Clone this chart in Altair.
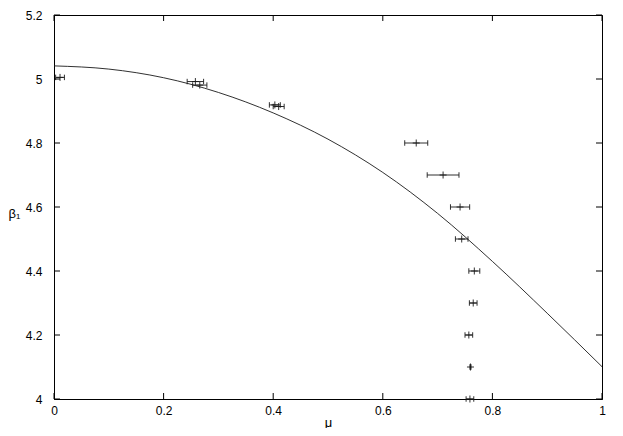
import altair as alt
import pandas as pd

# measured points with horizontal error bars
mu = [0.011, 0.258, 0.266, 0.403, 0.410, 0.661, 0.710, 0.741, 0.744, 0.767, 0.765, 0.757, 0.760, 0.759]
beta = [5.005, 4.992, 4.981, 4.919, 4.914, 4.8, 4.7, 4.6, 4.5, 4.4, 4.3, 4.2, 4.1, 4.0]
mu_err = [0.008, 0.015, 0.013, 0.010, 0.010, 0.021, 0.029, 0.0175, 0.0115, 0.010, 0.007, 0.007, 0.001, 0.007]

# fitted curve
curve_mu = [0.0, 0.1, 0.2, 0.3, 0.4, 0.5, 0.6, 0.7, 0.8, 0.9, 1.0]
curve_beta = [5.041, 5.031, 5.004, 4.958, 4.894, 4.812, 4.708, 4.580, 4.430, 4.268, 4.101]

x_ticks = [0, 0.2, 0.4, 0.6, 0.8, 1]
y_ticks = [4, 4.2, 4.4, 4.6, 4.8, 5, 5.2]

W, H = 548, 384
FONT = "Liberation Sans"
INK = "#1a1a1a"

pts = pd.DataFrame({
    "mu": mu,
    "beta": beta,
    "lo": [m - e for m, e in zip(mu, mu_err)],
    "hi": [m + e for m, e in zip(mu, mu_err)],
})
curve = pd.DataFrame({"mu": curve_mu, "beta": curve_beta})
xt = pd.DataFrame({"v": x_ticks})
yt = pd.DataFrame({"v": y_ticks})

xs = alt.Scale(domain=[0, 1], nice=False, zero=False)
ys = alt.Scale(domain=[4, 5.2], nice=False, zero=False)

xaxis = alt.Axis(values=x_ticks, ticks=False, labelPadding=6, labelFontSize=12,
                 labelFont=FONT, labelColor="black", title="μ", titleFont=FONT,
                 titleFontSize=13, titleFontWeight="normal", titleColor="black",
                 titleY=27, titleBaseline="alphabetic",
                 domainColor="black", grid=False, labelFlush=False,
                 labelExpr="format(datum.value, '~g')")
yaxis = alt.Axis(values=y_ticks, ticks=False, labelPadding=12, labelFontSize=12,
                 labelFont=FONT, labelColor="black", title="β₁", titleFont=FONT,
                 titleFontSize=13, titleFontWeight="normal", titleColor="black",
                 titleAngle=0, titleAlign="center", titleBaseline="middle",
                 titleX=-40, titleY=198, domainColor="black", grid=False,
                 labelFlush=False, labelExpr="format(datum.value, '~g')")

line = alt.Chart(curve).mark_line(color=INK, strokeWidth=0.9, interpolate="monotone").encode(
    x=alt.X("mu:Q", scale=xs, axis=xaxis),
    y=alt.Y("beta:Q", scale=ys, axis=yaxis),
)

bars = alt.Chart(pts).mark_rule(color=INK, strokeWidth=0.9).encode(
    x=alt.X("lo:Q", scale=xs), x2="hi:Q", y=alt.Y("beta:Q", scale=ys)
)
cap_shape = "M0,-1L0,1"
cap_lo = alt.Chart(pts).mark_point(shape=cap_shape, size=30, color=INK, strokeWidth=0.9, opacity=1).encode(
    x=alt.X("lo:Q", scale=xs), y=alt.Y("beta:Q", scale=ys)
)
cap_hi = alt.Chart(pts).mark_point(shape=cap_shape, size=30, color=INK, strokeWidth=0.9, opacity=1).encode(
    x=alt.X("hi:Q", scale=xs), y=alt.Y("beta:Q", scale=ys)
)
plus = alt.Chart(pts).mark_point(shape="M-1,0L1,0M0,-1L0,1", size=49, color=INK, strokeWidth=0.9, opacity=1).encode(
    x=alt.X("mu:Q", scale=xs), y=alt.Y("beta:Q", scale=ys)
)

TL = 6
xt_bottom = alt.Chart(xt).mark_rule(color="black", strokeWidth=1).encode(
    x=alt.X("v:Q", scale=xs), y=alt.value(H), y2=alt.value(H - TL))
xt_top = alt.Chart(xt).mark_rule(color="black", strokeWidth=1).encode(
    x=alt.X("v:Q", scale=xs), y=alt.value(0), y2=alt.value(TL))
yt_left = alt.Chart(yt).mark_rule(color="black", strokeWidth=1).encode(
    y=alt.Y("v:Q", scale=ys), x=alt.value(0), x2=alt.value(TL))
yt_right = alt.Chart(yt).mark_rule(color="black", strokeWidth=1).encode(
    y=alt.Y("v:Q", scale=ys), x=alt.value(W), x2=alt.value(W - TL))

chart = alt.layer(line, bars, cap_lo, cap_hi, plus, xt_bottom, xt_top, yt_left, yt_right).properties(
    width=W, height=H,
    autosize=alt.AutoSizeParams(type="none"),
    padding={"left": 46, "top": 7, "right": 13, "bottom": 29},
    background="white",
).configure_view(stroke="black", strokeWidth=1)

chart.save("out.html", embed_options={"renderer": "svg", "actions": False})
